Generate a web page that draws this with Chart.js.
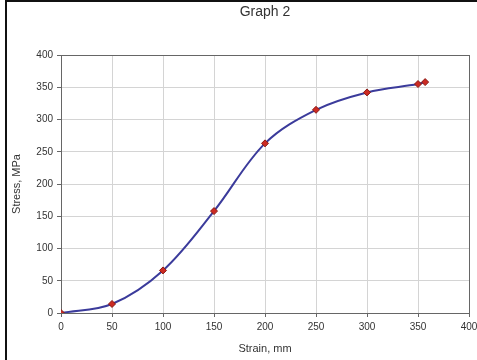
<!DOCTYPE html>
<html>
<head>
<meta charset="utf-8">
<script src="https://cdn.jsdelivr.net/npm/chart.js@4"></script>
<style>
  body { margin: 0; background: #fff; }
  #wrap { position: relative; width: 477px; height: 360px; }
  #frame { position: absolute; left: 5px; top: 0; width: 472px; height: 360px;
           border-left: 2px solid #111; border-top: 2px solid #111; box-sizing: border-box; pointer-events: none; }
</style>
</head>
<body>
<div id="wrap">
  <canvas id="graph" width="477" height="360"></canvas>
  <div id="frame"></div>
</div>
<script>
const strain = [0, 50, 100, 150, 200, 250, 300, 350, 357];
const stress = [0, 14, 66, 158, 263, 315, 342, 355, 358];
const xTicks = [0, 50, 100, 150, 200, 250, 300, 350, 400];
const yTicks = [0, 50, 100, 150, 200, 250, 300, 350, 400];

const points = strain.map((x, i) => ({ x: x, y: stress[i] }));
const font = 'Liberation Sans, Arial, sans-serif';

// title drawn above the plot, centered on the plot area
const titlePlugin = {
  id: 'graphTitle',
  afterDraw(chart) {
    const { ctx, chartArea } = chart;
    ctx.save();
    ctx.fillStyle = '#333';
    ctx.font = '14px ' + font;
    ctx.textAlign = 'center';
    ctx.textBaseline = 'middle';
    ctx.fillText('Graph 2', (chartArea.left + chartArea.right) / 2, 12);
    ctx.restore();
  }
};

const edge = (ctx) => ctx.tick && ctx.tick.value === 400 ? '#666' : '#d4d4d4';

new Chart(document.getElementById('graph').getContext('2d'), {
  type: 'scatter',
  data: {
    datasets: [{
      data: points,
      showLine: true,
      borderColor: '#3b3b9b',
      borderWidth: 2,
      tension: 0.35,
      pointStyle: 'rectRot',
      pointRadius: 3.5,
      pointBackgroundColor: '#cc2a22',
      pointBorderColor: '#8a1a14',
      pointBorderWidth: 1
    }]
  },
  options: {
    responsive: false,
    animation: false,
    layout: { padding: { top: 55, left: 6, right: 8, bottom: 0 } },
    plugins: { legend: { display: false }, tooltip: { enabled: false } },
    scales: {
      x: {
        type: 'linear', min: 0, max: 400,
        afterBuildTicks: s => { s.ticks = xTicks.map(v => ({ value: v })); },
        afterFit: s => { s.height = 47; s.paddingLeft = 0; s.paddingRight = 0; },
        border: { color: '#666', width: 1 },
        grid: { color: edge, tickColor: '#666', tickLength: 4 },
        ticks: { color: '#333', font: { family: font, size: 10 }, padding: 4 },
        title: { display: true, text: 'Strain, mm', color: '#333', font: { family: font, size: 11 }, padding: { top: 6 } }
      },
      y: {
        type: 'linear', min: 0, max: 400,
        afterBuildTicks: s => { s.ticks = yTicks.map(v => ({ value: v })); },
        afterFit: s => { s.width = 55; },
        border: { color: '#666', width: 1 },
        grid: { color: edge, tickColor: '#666', tickLength: 4 },
        ticks: { color: '#333', font: { family: font, size: 10 }, padding: 4 },
        title: { display: true, text: 'Stress, MPa', color: '#333', font: { family: font, size: 11 }, padding: { bottom: 2 } }
      }
    }
  },
  plugins: [titlePlugin]
});
</script>
</body>
</html>
